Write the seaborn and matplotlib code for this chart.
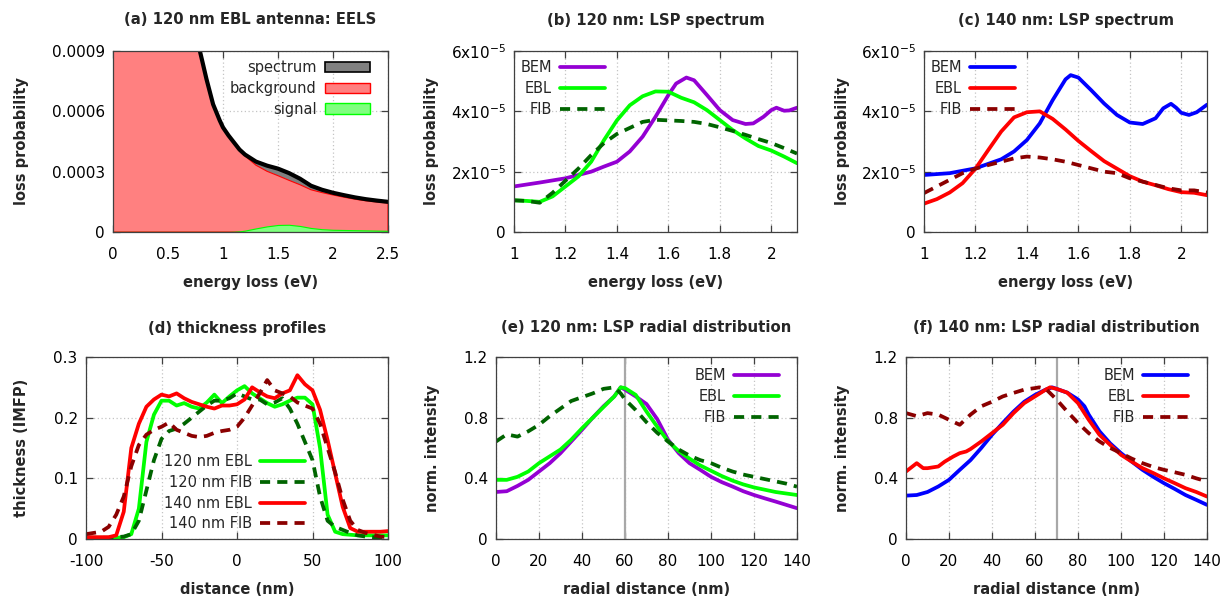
import numpy as np
import pandas as pd
import matplotlib
matplotlib.use('Agg')
import matplotlib.pyplot as plt
from matplotlib.patches import Patch
import seaborn as sns

# (a) EELS of the 120 nm EBL antenna
energy_a = [0.0, 0.3, 0.5, 0.6, 0.7, 0.75, 0.79, 0.85, 0.91, 0.97, 1.0, 1.05, 1.1, 1.15,
            1.2, 1.3, 1.4, 1.5, 1.6, 1.7, 1.8, 1.9, 2.0, 2.1, 2.2, 2.3, 2.4, 2.5]
spectrum_a = [0.006, 0.003, 0.0018, 0.00145, 0.00112, 0.00099, 0.0009, 0.00076, 0.000635,
              0.000555, 0.00052, 0.00048, 0.000445, 0.00041, 0.000385, 0.00035, 0.00033,
              0.000315, 0.000293, 0.000265, 0.00023, 0.00021, 0.000195, 0.000183,
              0.000172, 0.000163, 0.000156, 0.00015]
background_a = [0.006, 0.003, 0.0018, 0.00145, 0.00112, 0.00099, 0.0009, 0.00076, 0.000635,
                0.000555, 0.00052, 0.00048, 0.000444, 0.000407, 0.000378, 0.000332,
                0.000302, 0.00028, 0.000257, 0.000235, 0.00021, 0.000196, 0.000184,
                0.000173, 0.000163, 0.000155, 0.000149, 0.000144]
signal_a = [0, 0, 0, 0, 0, 0, 0, 0, 0, 0, 0, 0, 0.000001, 0.000003, 0.000007, 0.000018,
            0.000028, 0.000035, 0.000036, 0.00003, 0.00002, 0.000014, 0.000011, 0.00001,
            0.000009, 0.000008, 0.000007, 0.000006]

# (b) 120 nm LSP spectrum (units of 1e-5)
energy_grid = [1.0, 1.05, 1.1, 1.15, 1.2, 1.25, 1.3, 1.35, 1.4, 1.45, 1.5, 1.55, 1.6, 1.65,
               1.7, 1.75, 1.8, 1.85, 1.9, 1.95, 2.0, 2.05, 2.1]
bem_b_energy = [1.0, 1.1, 1.2, 1.3, 1.35, 1.4, 1.45, 1.5, 1.55, 1.6, 1.63, 1.67, 1.7, 1.75,
                1.8, 1.85, 1.9, 1.93, 1.97, 2.0, 2.02, 2.05, 2.07, 2.1]
bem_b = [1.51, 1.64, 1.78, 2.0, 2.17, 2.33, 2.67, 3.16, 3.82, 4.54, 4.92, 5.12, 5.03, 4.54,
         4.04, 3.71, 3.58, 3.6, 3.82, 4.04, 4.12, 4.02, 4.03, 4.12]
ebl_b = [1.05, 1.03, 1.0, 1.18, 1.51, 1.84, 2.33, 3.05, 3.7, 4.2, 4.5, 4.66, 4.65, 4.45,
         4.3, 4.04, 3.71, 3.38, 3.1, 2.85, 2.7, 2.5, 2.28]
fib_b = [1.05, 1.03, 0.97, 1.3, 1.7, 2.1, 2.55, 2.95, 3.25, 3.45, 3.65, 3.72, 3.7, 3.68,
         3.65, 3.58, 3.47, 3.35, 3.22, 3.08, 2.95, 2.78, 2.6]

# (c) 140 nm LSP spectrum (units of 1e-5)
bem_c_energy = [1.0, 1.1, 1.2, 1.3, 1.35, 1.4, 1.45, 1.5, 1.55, 1.57, 1.6, 1.65, 1.7, 1.75,
                1.8, 1.85, 1.9, 1.93, 1.96, 1.98, 2.0, 2.03, 2.06, 2.1]
bem_c = [1.89, 1.95, 2.11, 2.41, 2.67, 3.05, 3.6, 4.37, 5.06, 5.2, 5.12, 4.7, 4.26, 3.88,
         3.63, 3.58, 3.77, 4.1, 4.25, 4.12, 3.95, 3.88, 3.97, 4.22]
ebl_c = [0.94, 1.09, 1.31, 1.62, 2.1, 2.72, 3.33, 3.8, 3.97, 4.0, 3.75, 3.4, 3.02, 2.68,
         2.35, 2.1, 1.85, 1.67, 1.55, 1.42, 1.32, 1.3, 1.22]
fib_c = [1.29, 1.51, 1.73, 1.95, 2.1, 2.22, 2.33, 2.44, 2.5, 2.47, 2.41, 2.33, 2.22, 2.11,
         2.0, 1.95, 1.78, 1.67, 1.56, 1.45, 1.38, 1.38, 1.31]

# (d) thickness profiles
distance = list(range(-100, 101, 5))
ebl_120 = [.002, .002, .002, .002, .002, .003, .008, .05, .16, .205, .228, .228, .22, .224,
           .218, .215, .225, .238, .224, .235, .245, .252, .24, .232, .224, .218, .222, .228,
           .233, .233, .222, .15, .04, .012, .008, .007, .006, .006, .006, .006, .006]
fib_120 = [.002, .002, .002, .002, .003, .004, .008, .03, .08, .13, .165, .178, .182, .19,
           .2, .21, .22, .228, .228, .232, .24, .235, .23, .23, .222, .225, .232, .215, .19,
           .16, .13, .07, .03, .02, .015, .01, .006, .004, .003, .003, .003]
ebl_140 = [.003, .003, .003, .003, .006, .045, .15, .19, .218, .23, .238, .235, .24, .232,
           .226, .222, .218, .215, .22, .22, .222, .23, .25, .242, .235, .232, .24, .245, .27,
           .255, .245, .213, .163, .108, .053, .018, .012, .012, .012, .012, .013]
fib_140 = [.008, .01, .012, .02, .04, .07, .12, .155, .172, .18, .185, .192, .18, .175, .17,
           .168, .17, .175, .178, .18, .185, .2, .22, .24, .262, .245, .24, .235, .225, .22,
           .215, .19, .15, .11, .065, .03, .015, .01, .007, .004, .003]

# (e) 120 nm radial distribution
radius_e = [0, 5, 10, 15, 20, 25, 30, 35, 40, 45, 50, 55, 58, 60, 65, 70, 75, 80, 85, 90,
            95, 100, 105, 110, 115, 120, 125, 130, 135, 140]
bem_e = [.31, .315, .35, .39, .445, .5, .566, .643, .72, .8, .875, .94, 1.0, .985, .94, .89,
         .79, .655, .566, .5, .456, .41, .375, .346, .315, .29, .268, .247, .225, .203]
ebl_e = [.39, .39, .41, .445, .5, .545, .59, .655, .73, .8, .87, .94, 1.0, .995, .95, .84,
         .74, .645, .58, .53, .485, .45, .415, .385, .36, .34, .325, .31, .3, .29]
fib_e = [.643, .69, .675, .71, .753, .81, .86, .91, .935, .96, .99, 1.0, .96, .92, .85, .77,
         .7, .643, .59, .55, .52, .5, .47, .445, .425, .41, .395, .38, .365, .345]
peak_e = 60

# (f) 140 nm radial distribution
bem_f_r = [0, 5, 10, 15, 20, 25, 30, 35, 40, 45, 50, 55, 60, 65, 68, 70, 75, 80, 83, 85, 90,
           95, 100, 105, 110, 115, 120, 125, 130, 135, 140]
bem_f = [.286, .29, .31, .346, .39, .456, .52, .6, .687, .765, .84, .905, .95, .985, 1.0,
         .99, .965, .92, .875, .82, .71, .63, .566, .51, .456, .41, .368, .33, .29, .258, .225]
ebl_f_r = [0, 3, 5, 8, 10, 15, 18, 22, 25, 28, 30, 35, 40, 45, 50, 55, 60, 65, 67, 70, 75,
           80, 85, 90, 95, 100, 105, 110, 115, 120, 125, 130, 135, 140]
ebl_f = [.445, .478, .5, .467, .467, .478, .51, .544, .566, .577, .593, .643, .698, .753,
         .83, .896, .94, .985, 1.0, .99, .965, .896, .786, .687, .62, .555, .51, .467, .435,
         .4, .368, .335, .31, .28]
fib_f_r = [0, 5, 10, 15, 20, 25, 30, 35, 40, 45, 50, 55, 60, 62, 65, 70, 75, 80, 85, 90, 95,
           100, 105, 110, 115, 120, 125, 130, 135, 140]
fib_f = [.83, .81, .83, .82, .786, .753, .82, .875, .905, .94, .963, .985, .995, 1.0, .99,
         .92, .84, .765, .698, .643, .6, .566, .53, .5, .475, .456, .44, .423, .4, .38]
peak_f = 70

sns.set_style('ticks')
plt.rcParams['font.family'] = ['DejaVu Sans']
plt.rcParams['mathtext.fontset'] = 'dejavusans'

W, H = 1224, 600
fig = plt.figure(figsize=(W / 100, H / 100), dpi=100)

PURPLE, GREEN, DKGREEN = '#9400d3', '#00ff00', '#006400'
BLUE, RED, DKRED = '#0000ff', '#ff0000', '#8b0000'
LW = 2.7
DASH = (0, (2.7, 1.9))
exp_labels = ['0', '2x10$^{-5}$', '4x10$^{-5}$', '6x10$^{-5}$']


def fx(px):
    return px / W


def fy(py):
    return 1 - py / H


def make_axes(box):
    l, t, r, b = box
    ax = fig.add_axes([fx(l), fy(b), fx(r - l), (b - t) / H])
    ax.set_axisbelow(True)
    return ax


def finish(ax, box, title, xlabel, ylabel, ylab_x, title_y, xlab_y):
    l, t, r, b = box
    ax.grid(True, color='#c4c4c4', lw=0.9, ls=(0, (1, 2)))
    ax.tick_params(direction='in', top=True, right=True, length=5, width=0.9,
                   color='#404040', labelsize=11, labelcolor='black')
    ax.tick_params(axis='x', pad=11)
    ax.tick_params(axis='y', pad=6)
    for s in ax.spines.values():
        s.set_color('#404040')
        s.set_linewidth(0.9)
    fig.text(fx((l + r) / 2), fy(title_y), title, ha='center', va='center',
             fontsize=10.7, fontweight='bold')
    ax.set_xlabel(xlabel, fontsize=10.5, fontweight='bold')
    ax.set_ylabel(ylabel, fontsize=10.5, fontweight='bold')
    ax.xaxis.label.set_va('center')
    ax.yaxis.label.set_va('center')
    ax.xaxis.set_label_coords(fx((l + r) / 2), fy(xlab_y), transform=fig.transFigure)
    ax.yaxis.set_label_coords(fx(ylab_x), fy((t + b) / 2), transform=fig.transFigure)


def add_legend(ax, handles, labels, anchor_px):
    ax.legend(handles, labels, loc='upper right', markerfirst=False, frameon=False,
              bbox_to_anchor=(fx(anchor_px[0]), fy(anchor_px[1])),
              bbox_transform=fig.transFigure, borderpad=0, borderaxespad=0,
              handlelength=3.1, handletextpad=0.55, labelspacing=0.4, fontsize=10.5)


def lines(ax, series):
    for x, y, color, ls in series:
        sns.lineplot(x=x, y=y, ax=ax, color=color, lw=LW, linestyle=ls, legend=False)
    return ax.get_lines()[-len(series):]


# ---------- (a) ----------
box = (113, 51, 388, 232)
ax = make_axes(box)
df_a = pd.DataFrame({'E': energy_a, 'spec': spectrum_a, 'bg': background_a, 'sig': signal_a})
ax.fill_between(df_a['E'], 0, df_a['spec'], color='#808080', lw=0)
ax.fill_between(df_a['E'], 0, df_a['bg'], facecolor='#ff8080', edgecolor=RED, lw=0.8)
ax.fill_between(df_a['E'], 0, df_a['sig'], facecolor='#80ff80', edgecolor=GREEN, lw=0.8)
sns.lineplot(data=df_a, x='E', y='spec', ax=ax, color='black', lw=LW + 0.3, legend=False)
ax.set_xlim(0, 2.5)
ax.set_ylim(0, 0.0009)
ax.set_xticks([0, 0.5, 1, 1.5, 2, 2.5])
ax.set_xticklabels(['0', '0.5', '1', '1.5', '2', '2.5'])
ax.set_yticks([0, 0.0003, 0.0006, 0.0009])
ax.set_yticklabels(['0', '0.0003', '0.0006', '0.0009'])
add_legend(ax, [Patch(facecolor='#808080', edgecolor='black', lw=1.2),
                Patch(facecolor='#ff8080', edgecolor=RED, lw=1.0),
                Patch(facecolor='#80ff80', edgecolor=GREEN, lw=1.0)],
           ['spectrum', 'background', 'signal'], (370, 60))
finish(ax, box, '(a) 120 nm EBL antenna: EELS', 'energy loss (eV)', 'loss probability',
       22, 20, 283)

# ---------- (b) ----------
box = (514, 51, 797, 232)
ax = make_axes(box)
hs = lines(ax, [(bem_b_energy, np.array(bem_b) * 1e-5, PURPLE, '-'),
                (energy_grid, np.array(ebl_b) * 1e-5, GREEN, '-'),
                (energy_grid, np.array(fib_b) * 1e-5, DKGREEN, DASH)])
ax.set_xlim(1, 2.1)
ax.set_ylim(0, 6e-5)
ax.set_xticks([1, 1.2, 1.4, 1.6, 1.8, 2])
ax.set_xticklabels(['1', '1.2', '1.4', '1.6', '1.8', '2'])
ax.set_yticks([0, 2e-5, 4e-5, 6e-5])
ax.set_yticklabels(exp_labels)
add_legend(ax, hs, ['BEM', 'EBL', 'FIB'], (605, 60))
finish(ax, box, '(b) 120 nm: LSP spectrum', 'energy loss (eV)', 'loss probability',
       431, 20, 283)

# ---------- (c) ----------
box = (924, 51, 1207, 232)
ax = make_axes(box)
hs = lines(ax, [(bem_c_energy, np.array(bem_c) * 1e-5, BLUE, '-'),
                (energy_grid, np.array(ebl_c) * 1e-5, RED, '-'),
                (energy_grid, np.array(fib_c) * 1e-5, DKRED, DASH)])
ax.set_xlim(1, 2.1)
ax.set_ylim(0, 6e-5)
ax.set_xticks([1, 1.2, 1.4, 1.6, 1.8, 2])
ax.set_xticklabels(['1', '1.2', '1.4', '1.6', '1.8', '2'])
ax.set_yticks([0, 2e-5, 4e-5, 6e-5])
ax.set_yticklabels(exp_labels)
add_legend(ax, hs, ['BEM', 'EBL', 'FIB'], (1015, 60))
finish(ax, box, '(c) 140 nm: LSP spectrum', 'energy loss (eV)', 'loss probability',
       842, 20, 283)

# ---------- (d) ----------
box = (86, 357, 388, 539)
ax = make_axes(box)
hs = lines(ax, [(distance, ebl_120, GREEN, '-'),
                (distance, fib_120, DKGREEN, DASH),
                (distance, ebl_140, RED, '-'),
                (distance, fib_140, DKRED, DASH)])
ax.set_xlim(-100, 100)
ax.set_ylim(0, 0.3)
ax.set_xticks([-100, -50, 0, 50, 100])
ax.set_xticklabels(['-100', '-50', '0', '50', '100'])
ax.set_yticks([0, 0.1, 0.2, 0.3])
ax.set_yticklabels(['0', '0.1', '0.2', '0.3'])
add_legend(ax, hs, ['120 nm EBL', '120 nm FIB', '140 nm EBL', '140 nm FIB'], (305, 454))
finish(ax, box, '(d) thickness profiles', 'distance (nm)', 'thickness (IMFP)',
       22, 328, 590)

# ---------- (e) ----------
box = (496, 357, 797, 539)
ax = make_axes(box)
ax.axvline(peak_e, color='#a8a8a8', lw=1.6, zorder=1.5)
hs = lines(ax, [(radius_e, bem_e, PURPLE, '-'),
                (radius_e, ebl_e, GREEN, '-'),
                (radius_e, fib_e, DKGREEN, DASH)])
ax.set_xlim(0, 140)
ax.set_ylim(0, 1.2)
ax.set_xticks(list(range(0, 141, 20)))
ax.set_yticks([0, 0.4, 0.8, 1.2])
ax.set_yticklabels(['0', '0.4', '0.8', '1.2'])
add_legend(ax, hs, ['BEM', 'EBL', 'FIB'], (779, 368))
finish(ax, box, '(e) 120 nm: LSP radial distribution', 'radial distance (nm)',
       'norm. intensity', 432, 328, 590)

# ---------- (f) ----------
box = (906, 357, 1207, 539)
ax = make_axes(box)
ax.axvline(peak_f, color='#a8a8a8', lw=1.6, zorder=1.5)
hs = lines(ax, [(bem_f_r, bem_f, BLUE, '-'),
                (ebl_f_r, ebl_f, RED, '-'),
                (fib_f_r, fib_f, DKRED, DASH)])
ax.set_xlim(0, 140)
ax.set_ylim(0, 1.2)
ax.set_xticks(list(range(0, 141, 20)))
ax.set_yticks([0, 0.4, 0.8, 1.2])
ax.set_yticklabels(['0', '0.4', '0.8', '1.2'])
add_legend(ax, hs, ['BEM', 'EBL', 'FIB'], (1188, 368))
finish(ax, box, '(f) 140 nm: LSP radial distribution', 'radial distance (nm)',
       'norm. intensity', 842, 328, 590)

fig.savefig('out.png', dpi=100)
